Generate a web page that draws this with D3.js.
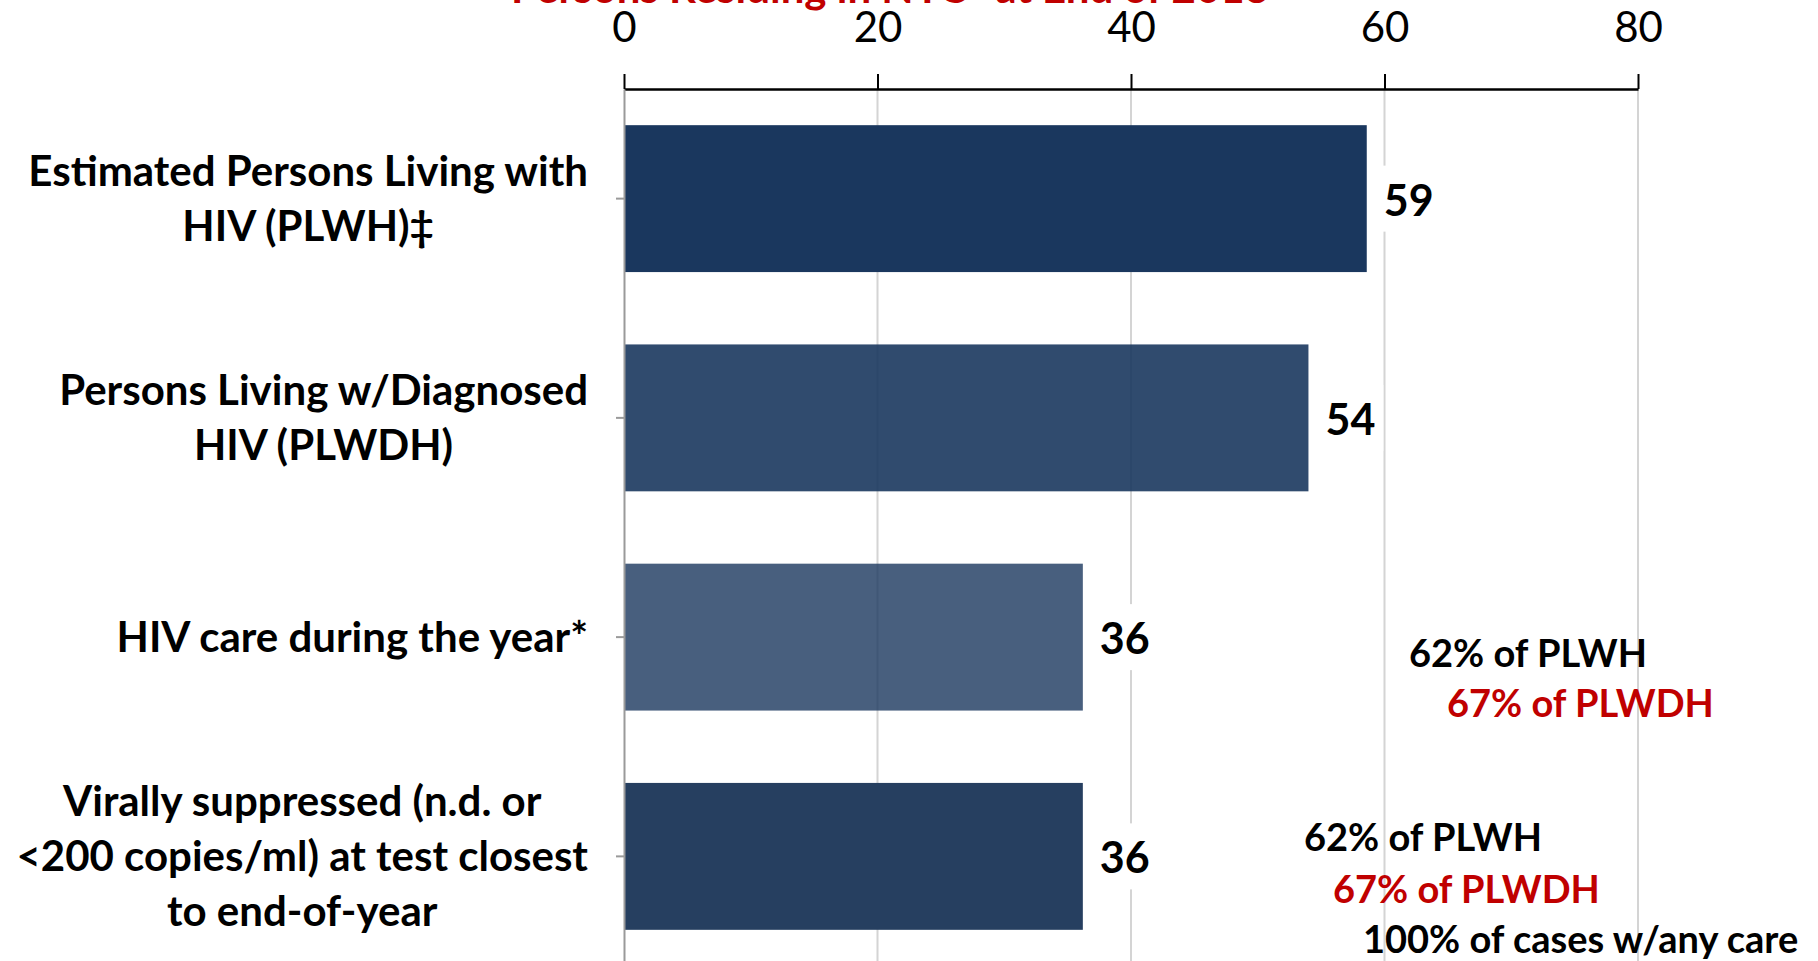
<!DOCTYPE html>
<html>
<head>
<meta charset="utf-8">
<script src="https://cdn.jsdelivr.net/npm/d3@7"></script>
<style>
  body { margin: 0; background: #fff; }
  text { font-family: Lato, "Open Sans", sans-serif; }
</style>
</head>
<body>
<svg id="chart"></svg>
<script>
const WIDTH = 1818;
const HEIGHT = 961;

// data
const categories = [
    ['Estimated Persons Living with', 'HIV (PLWH)\u2021'],
    ['Persons Living w/Diagnosed', 'HIV (PLWDH)'],
    ['HIV care during the year*'],
    ['Virally suppressed (n.d. or', '<200 copies/ml) at test closest', 'to end-of-year']
];
const values = [58.6, 54.0, 36.2, 36.2];
const xTicks = [0, 20, 40, 60, 80];
const titleText = 'Persons Residing in NYC* at End of 2018';
const noteTexts = ['62% of PLWH', '67% of PLWDH', '62% of PLWH', '67% of PLWDH', '100% of cases w/any care'];
const noteColors = ['#000', '#c00000', '#000', '#c00000', '#000'];

// styles / layout
const barFills = ['#1a375e', '#1a375e', '#1a375e', '#263f60'];
const barOpacity = [1, 0.9, 0.8, 1];
const notePos = [[1409, 667], [1447, 717], [1304, 851], [1333, 903], [1363, 953]];
const labelRight = 588;
const lineH = 55;

const svg = d3.select('#chart')
    .attr('width', WIDTH)
    .attr('height', HEIGHT);

const xScale = d3.scaleLinear()
    .domain([0, 80])
    .range([624, 1638]);

const yScale = d3.scaleBand()
    .domain(d3.range(categories.length))
    .range([89, 966])
    .paddingInner(0.33)
    .paddingOuter(0.165);

// title, cut off at the top like the original
svg.append('text')
    .attr('x', 890)
    .attr('y', 3)
    .attr('text-anchor', 'middle')
    .attr('fill', '#c00000')
    .style('font-weight', 'bold')
    .style('font-size', '42px')
    .text(titleText);

// grid
svg.append('g').selectAll('line')
    .data(xTicks.slice(1))
    .enter().append('line')
    .attr('x1', d => xScale(d)).attr('x2', d => xScale(d))
    .attr('y1', 89).attr('y2', HEIGHT)
    .attr('stroke', '#d4d4d4')
    .attr('stroke-width', 2);

// bars
svg.append('g').selectAll('rect')
    .data(values)
    .enter().append('rect')
    .attr('x', xScale(0))
    .attr('y', (d, i) => yScale(i))
    .attr('width', d => xScale(d) - xScale(0))
    .attr('height', yScale.bandwidth())
    .attr('fill', (d, i) => barFills[i])
    .attr('fill-opacity', (d, i) => barOpacity[i]);

// value labels with white box behind (hides gridlines)
const valG = svg.append('g');
values.forEach((v, i) => {
    const cy = yScale(i) + yScale.bandwidth() / 2;
    const bg = valG.append('rect').attr('fill', '#fff');
    const t = valG.append('text')
        .attr('x', xScale(v) + 17)
        .attr('y', cy + 17)
        .style('font-weight', 'bold')
        .style('font-size', '43px')
        .text(d3.format('.0f')(v));
    const w = t.node().getComputedTextLength();
    bg.attr('x', xScale(v) + 9)
        .attr('y', cy - 33)
        .attr('width', w + 16)
        .attr('height', 66);
});

// top axis
const xAxis = d3.axisTop(xScale)
    .tickValues(xTicks)
    .tickSize(15)
    .tickSizeOuter(0)
    .tickPadding(32);
const xAxisG = svg.append('g')
    .attr('transform', 'translate(0,89)')
    .call(xAxis);
xAxisG.select('.domain').attr('stroke', '#000').attr('stroke-width', 2.5);
xAxisG.selectAll('.tick line').attr('stroke', '#000').attr('stroke-width', 2);
xAxisG.selectAll('.tick text')
    .attr('fill', '#000')
    .style('font-family', 'Lato, sans-serif')
    .style('font-size', '42px');

// left axis
const yAxis = d3.axisLeft(yScale)
    .tickSize(8)
    .tickSizeOuter(0)
    .tickFormat('');
const yAxisG = svg.append('g')
    .attr('transform', `translate(${xScale(0)},0)`)
    .call(yAxis);
yAxisG.selectAll('path, line').attr('stroke', '#9a9a9a').attr('stroke-width', 2);

// category labels, centred block, right aligned
categories.forEach((lines, i) => {
    const cy = yScale(i) + yScale.bandwidth() / 2;
    const t = svg.append('text')
        .attr('text-anchor', 'middle')
        .style('font-weight', 'bold')
        .style('font-size', '42px');
    const spans = lines.map((l, j) => t.append('tspan')
        .attr('y', cy - (lines.length - 1) * lineH / 2 + j * lineH + 15)
        .text(l));
    const maxW = d3.max(spans, s => s.node().getComputedTextLength());
    spans.forEach(s => s.attr('x', labelRight - maxW / 2));
});

// notes on the right
svg.append('g').selectAll('text')
    .data(noteTexts)
    .enter().append('text')
    .attr('x', (d, i) => notePos[i][0])
    .attr('y', (d, i) => notePos[i][1])
    .attr('fill', (d, i) => noteColors[i])
    .style('font-weight', 'bold')
    .style('font-size', '38px')
    .text(d => d);
</script>
</body>
</html>
